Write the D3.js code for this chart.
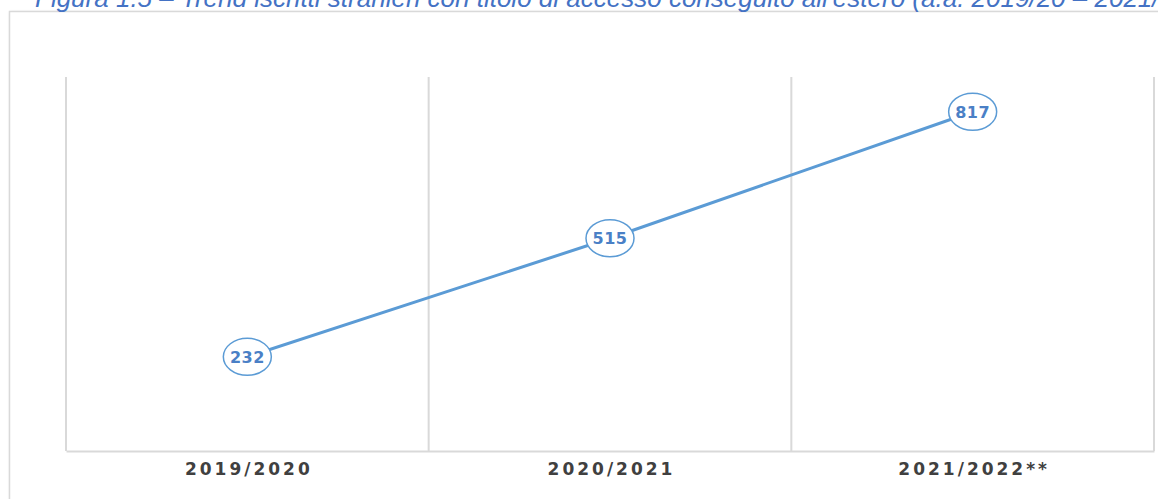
<!DOCTYPE html>
<html>
<head>
<meta charset="utf-8">
<script src="https://cdn.jsdelivr.net/npm/d3@7"></script>
<style>
  html, body { margin: 0; padding: 0; background: #ffffff; }
  svg { display: block; }
</style>
</head>
<body>
<svg id="chart" width="1158" height="499"></svg>
<script>
const titleText = "Figura 1.5 – Trend iscritti stranieri con titolo di accesso conseguito all'estero (a.a. 2019/20 – 2021/22)";
const categories = ["2019/2020", "2020/2021", "2021/2022**"];
const values = [232, 515, 817];
const yDomain = [0, 900];

const W = 1158, H = 499;
const plot = { left: 66, right: 1154, top: 77, bottom: 451 };

const svg = d3.select("#chart");

// shadow filter for outer frame
const defs = svg.append("defs");
const f = defs.append("filter").attr("id", "sh").attr("x", "-5%").attr("y", "-5%").attr("width", "110%").attr("height", "110%");
f.append("feGaussianBlur").attr("in", "SourceAlpha").attr("stdDeviation", 1.2).attr("result", "b");
f.append("feOffset").attr("in", "b").attr("dx", 1).attr("dy", 1).attr("result", "o");
f.append("feComponentTransfer").attr("in", "o").attr("result", "o2")
  .append("feFuncA").attr("type", "linear").attr("slope", 0.25);
const m = f.append("feMerge");
m.append("feMergeNode").attr("in", "o2");
m.append("feMergeNode").attr("in", "SourceGraphic");

// outer chart frame (extends beyond window on right/bottom)
svg.append("rect")
  .attr("x", 9.5).attr("y", 11.5)
  .attr("width", 1180).attr("height", 520)
  .attr("fill", "#ffffff")
  .attr("stroke", "#d9d9d9").attr("stroke-width", 1.5)
  .attr("filter", "url(#sh)");

// title (cut off at top, as in the source image)
svg.append("text")
  .attr("x", 35).attr("y", 7)
  .attr("font-family", "Liberation Sans, Arial, sans-serif")
  .attr("font-style", "italic")
  .attr("font-size", 26)
  .attr("fill", "#4472C4")
  .text(titleText);

const x = d3.scaleBand().domain(categories).range([plot.left, plot.right]).padding(0);
const y = d3.scaleLinear().domain(yDomain).range([454, plot.top]);

// vertical gridlines at band boundaries
const bounds = categories.map(c => x(c)).concat([x(categories[categories.length - 1]) + x.bandwidth()]);
svg.append("g").selectAll("line").data(bounds).join("line")
  .attr("x1", d => d).attr("x2", d => d)
  .attr("y1", plot.top).attr("y2", plot.bottom)
  .attr("stroke", "#d9d9d9").attr("stroke-width", 2);

// x axis
const xAxis = svg.append("g")
  .attr("transform", `translate(0,${plot.bottom})`)
  .call(d3.axisBottom(x).tickSize(0).tickPadding(12));
xAxis.select(".domain").attr("stroke", "#d9d9d9").attr("stroke-width", 2);
xAxis.selectAll("text")
  .attr("font-family", "DejaVu Sans, sans-serif")
  .attr("font-weight", "bold")
  .attr("font-size", 17)
  .attr("letter-spacing", "3px")
  .attr("dx", "1.5")
  .attr("fill", "#404040");

const pts = categories.map((c, i) => ({ c, v: values[i] }));
const cx = d => x(d.c) + x.bandwidth() / 2;

// line
svg.append("path")
  .datum(pts)
  .attr("fill", "none")
  .attr("stroke", "#5B9BD5")
  .attr("stroke-width", 3)
  .attr("d", d3.line().x(cx).y(d => y(d.v)));

// markers
const mk = svg.append("g").selectAll("g").data(pts).join("g")
  .attr("transform", d => `translate(${cx(d)},${y(d.v)})`);
mk.append("ellipse")
  .attr("rx", 24).attr("ry", 18.5)
  .attr("fill", "#ffffff")
  .attr("stroke", "#5B9BD5").attr("stroke-width", 1.5);
mk.append("text")
  .attr("text-anchor", "middle")
  .attr("dy", "0.36em")
  .attr("font-family", "DejaVu Sans, sans-serif")
  .attr("font-weight", "bold")
  .attr("font-size", 16)
  .attr("letter-spacing", "0.5px")
  .attr("fill", "#4a80c6")
  .text(d => d.v);
</script>
</body>
</html>
